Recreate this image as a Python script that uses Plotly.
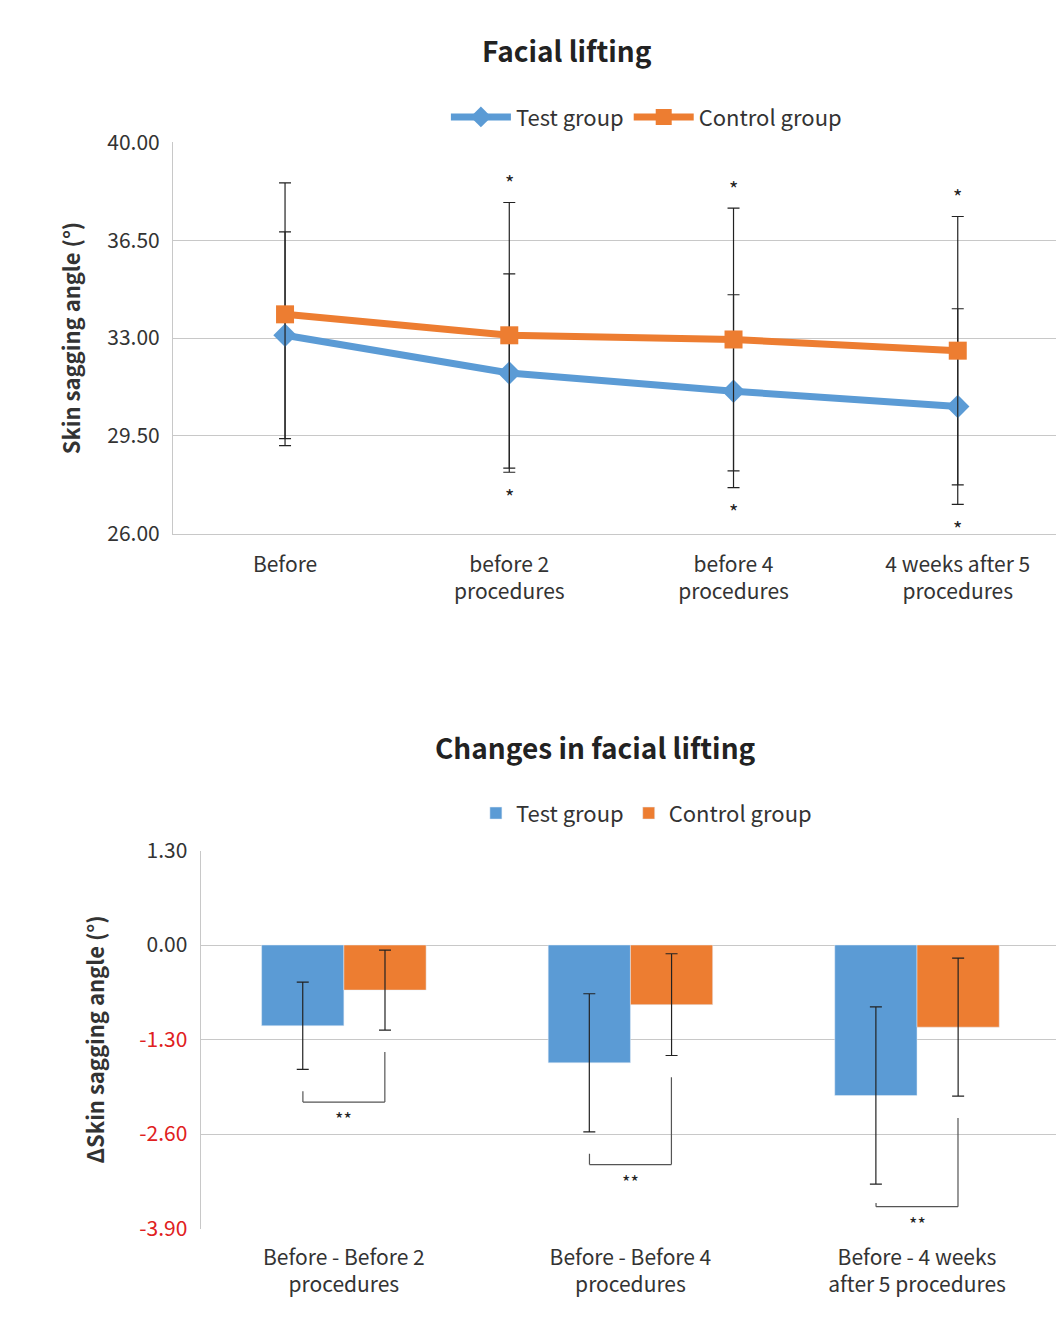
import plotly.graph_objects as go

# Top chart data
time_points = ["Before", "before 2<br>procedures", "before 4<br>procedures", "4 weeks after 5<br>procedures"]
test_mean = [33.1, 31.75, 31.1, 30.55]
test_sd = [3.7, 3.55, 3.45, 3.5]
ctrl_mean = [33.85, 33.1, 32.95, 32.55]
ctrl_sd = [4.7, 4.75, 4.7, 4.8]
sig_top = ["", "*", "*", "*"]

# Bottom chart data
change_labels = ["Before - Before 2<br>procedures", "Before - Before 4<br>procedures", "Before - 4 weeks<br>after 5 procedures"]
test_change = [-1.11, -1.62, -2.07]
test_change_sd = [0.6, 0.95, 1.22]
ctrl_change = [-0.62, -0.82, -1.13]
ctrl_change_sd = [0.55, 0.7, 0.95]
sig_bottom = ["**", "**", "**"]

BLUE = "#5b9bd5"
ORANGE = "#ed7d31"
FONT = "Noto Sans CJK KR"

fig = go.Figure()

fig.add_trace(go.Scatter(
    x=time_points, y=test_mean, name="Test group", mode="lines+markers",
    line=dict(color=BLUE, width=7), marker=dict(symbol="diamond", size=18, color=BLUE),
    error_y=dict(type="data", array=test_sd, color="#222", thickness=1.2, width=6),
    xaxis="x", yaxis="y", legend="legend"))
fig.add_trace(go.Scatter(
    x=time_points, y=ctrl_mean, name="Control group", mode="lines+markers",
    line=dict(color=ORANGE, width=7), marker=dict(symbol="square", size=18, color=ORANGE),
    error_y=dict(type="data", array=ctrl_sd, color="#222", thickness=1.2, width=6),
    xaxis="x", yaxis="y", legend="legend"))

fig.add_trace(go.Bar(
    x=change_labels, y=test_change, name="Test group", marker_color=BLUE,
    error_y=dict(type="data", array=test_change_sd, color="#222", thickness=1.2, width=6),
    xaxis="x2", yaxis="y2", legend="legend2"))
fig.add_trace(go.Bar(
    x=change_labels, y=ctrl_change, name="Control group", marker_color=ORANGE,
    error_y=dict(type="data", array=ctrl_change_sd, color="#222", thickness=1.2, width=6),
    xaxis="x2", yaxis="y2", legend="legend2"))

annotations = []
for i, s in enumerate(sig_top):
    if s:
        annotations.append(dict(x=i, y=ctrl_mean[i] + ctrl_sd[i], text=s, xref="x", yref="y",
                                showarrow=False, yshift=20, font=dict(size=20, color="#222")))
        annotations.append(dict(x=i, y=test_mean[i] - test_sd[i], text=s, xref="x", yref="y",
                                showarrow=False, yshift=-24, font=dict(size=20, color="#222")))

shapes = []
off = 0.143
for i, s in enumerate(sig_bottom):
    t_low = test_change[i] - test_change_sd[i]
    c_low = ctrl_change[i] - ctrl_change_sd[i]
    base = max(min(t_low, c_low) - 0.45, -3.6)
    line = dict(color="#555", width=1.2)
    shapes.append(dict(type="line", xref="x2", yref="y2", x0=i - off, x1=i - off,
                       y0=max(t_low - 0.3, base + 0.05), y1=base, line=line))
    shapes.append(dict(type="line", xref="x2", yref="y2", x0=i + off, x1=i + off, y0=c_low - 0.3, y1=base, line=line))
    shapes.append(dict(type="line", xref="x2", yref="y2", x0=i - off, x1=i + off, y0=base, y1=base, line=line))
    annotations.append(dict(x=i, y=base, text=s, xref="x2", yref="y2", showarrow=False,
                            yshift=-16, font=dict(size=18, color="#222")))

annotations += [
    dict(text="<b>Facial lifting</b>", x=0.525, y=0.985, xref="paper", yref="paper",
         showarrow=False, font=dict(size=28, color="#222")),
    dict(text="<b>Changes in facial lifting</b>", x=0.552, y=0.445, xref="paper", yref="paper",
         showarrow=False, font=dict(size=28, color="#222")),
]

grid = "#c8c8c8"
neg_vals = [1.3, 0.0, -1.3, -2.6, -3.9]
neg_text = [f"{v:.2f}" if v >= 0 else f"<span style='color:#e02020'>{v:.2f}</span>" for v in neg_vals]

fig.update_layout(
    width=1064, height=1331, margin=dict(l=0, r=0, t=0, b=0, autoexpand=False),
    plot_bgcolor="white", paper_bgcolor="white",
    font=dict(family=FONT, size=20, color="#333"),
    barmode="group", bargap=0.426, bargroupgap=0,
    xaxis=dict(domain=[0.155, 0.998], anchor="y", range=[-0.5, 3.5], automargin=False,
               showline=True, linecolor=grid, ticks="", ticklabelstandoff=12, tickfont=dict(size=21)),
    yaxis=dict(domain=[0.605, 0.899], anchor="x", range=[26, 40], tickvals=[26, 29.5, 33, 36.5, 40],
               automargin=False, tickformat=".2f", gridcolor=grid, showline=True, linecolor=grid,
               zeroline=False, tickfont=dict(size=21), ticklabelstandoff=8,
               title=dict(text="<b>Skin sagging angle (°)</b>", font=dict(size=22), standoff=20)),
    xaxis2=dict(domain=[0.181, 0.989], anchor="y2", range=[-0.5, 2.5], automargin=False,
                showline=False, ticks="", ticklabelstandoff=14, tickfont=dict(size=21)),
    yaxis2=dict(domain=[0.083, 0.367], anchor="x2", range=[-3.9, 1.3], tickvals=neg_vals, ticktext=neg_text,
                automargin=False, gridcolor=grid, showline=True, linecolor=grid, zeroline=False,
                tickfont=dict(size=21), ticklabelstandoff=8,
                title=dict(text="<b>ΔSkin sagging angle (°)</b>", font=dict(size=22), standoff=28)),
    legend=dict(orientation="h", x=0.6, y=0.918, xanchor="center", yanchor="middle",
                font=dict(size=22), bgcolor="rgba(0,0,0,0)", itemwidth=60),
    legend2=dict(orientation="h", x=0.6, y=0.395, xanchor="center", yanchor="middle",
                 font=dict(size=22), bgcolor="rgba(0,0,0,0)"),
    annotations=annotations, shapes=shapes,
)

fig.write_html("out.html")
